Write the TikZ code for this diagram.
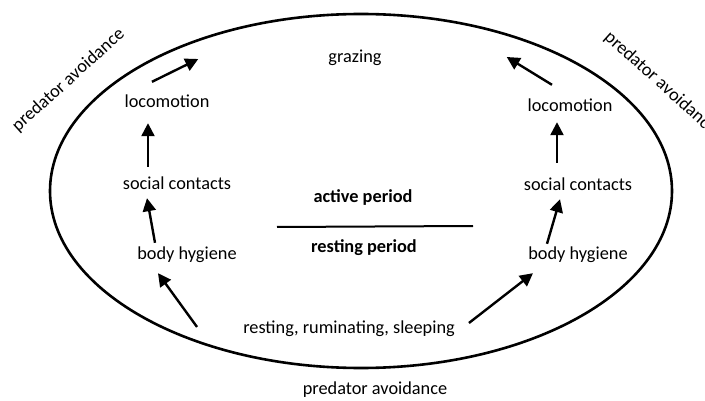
\documentclass[tikz,border=0pt]{standalone}
\usepackage{fontspec}
\setmainfont{Carlito}
\usepackage{tikz}
\usetikzlibrary{arrows.meta}
\tikzset{
    lbl/.style={inner sep=2pt, text height=12pt, text depth=4pt, font=\fontsize{18.3}{22}\selectfont},
    boldlbl/.style={lbl, font=\fontsize{18.3}{22}\selectfont\bfseries},
    arr/.style={-{Triangle[length=13pt,width=13pt]}, line width=2.4pt},
    rim/.style={line width=2.6pt}
}
\begin{document}
\begin{tikzpicture}[x=1pt, y=-1pt]
    \useasboundingbox (0,0) rectangle (705,401);

    % Outer cycle
    \draw[rim] (361,191) ellipse [x radius=311, y radius=177];

    % Labels
    \node[lbl] (graz) at (355,59) {grazing};
    \node[lbl] (locL) at (167,104) {locomotion};
    \node[lbl] (locR) at (570,108) {locomotion};
    \node[lbl] (socL) at (177,186) {social contacts};
    \node[lbl] (socR) at (578,187) {social contacts};
    \node[lbl] (hygL) at (187,256) {body hygiene};
    \node[lbl] (hygR) at (578,256) {body hygiene};
    \node[lbl] (rest) at (349,329) {resting, ruminating, sleeping};
    \node[boldlbl] (act) at (363,199) {active period};
    \node[boldlbl] (rst) at (364,249) {resting period};

    % Predator avoidance around the cycle
    \node[lbl, rotate=42] (predL) at (69,81) {predator avoidance};
    \node[lbl, rotate=-42] (predR) at (660,84) {predator avoidance};
    \node[lbl] (predB) at (375,390) {predator avoidance};

    % Divider between periods
    \draw[line width=2pt] ([shift={(-86,28)}]act.center) -- ([shift={(110,27)}]act.center);

    % Left branch
    \draw[arr] ([shift={(-44,-2)}]rest.west) -- ([shift={(-29,7)}]hygL.south);
    \draw[arr] ([shift={(-32,-3)}]hygL.north) -- ([shift={(-30,2)}]socL.south);
    \draw[arr] ([shift={(-29,-9)}]socL.north) -- ([shift={(-19,9)}]locL.south);
    \draw[arr] ([shift={(-15,-12)}]locL.north) -- ([shift={(-128,0)}]graz.west);

    % Right branch
    \draw[arr] ([shift={(12,-6)}]rest.east) -- ([shift={(-45,7)}]hygR.south);
    \draw[arr] ([shift={(-31,-2)}]hygR.north) -- ([shift={(-18,2)}]socR.south);
    \draw[arr] ([shift={(-21,-14)}]socR.north) -- ([shift={(-13,4)}]locR.south);
    \draw[arr] ([shift={(-18,-13)}]locR.north) -- ([shift={(123,-2)}]graz.east);
\end{tikzpicture}
\end{document}
